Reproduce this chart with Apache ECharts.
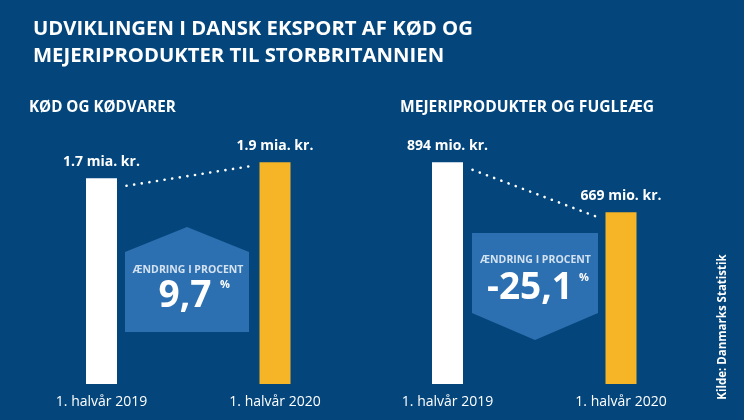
<!DOCTYPE html>
<html>
<head>
<meta charset="utf-8">
<script src="https://cdn.jsdelivr.net/npm/echarts@6/dist/echarts.min.js"></script>
<style>
html,body{margin:0;padding:0;background:#04467B;}
#c{width:744px;height:420px;}
</style>
</head>
<body>
<div id="c"></div>
<script>
// ---- data ----
var categories = ['1. halvår 2019', '1. halvår 2020'];
var meatValues = [1.7, 1.9];          // mia. kr.
var dairyValues = [894, 669];         // mio. kr.
var meatUnit = 'mia. kr.';
var dairyUnit = 'mio. kr.';
var meatChange = '9,7';
var dairyChange = '-25,1';
var panelTitles = ['KØD OG KØDVARER', 'MEJERIPRODUKTER OG FUGLEÆG'];
var chartTitle = 'UDVIKLINGEN I DANSK EKSPORT AF KØD OG\nMEJERIPRODUKTER TIL STORBRITANNIEN';
var changeLabel = 'ÆNDRING I PROCENT';
var sourceText = 'Kilde: Danmarks Statistik';

// ---- styles ----
var BG = '#04467B';
var GOLD = '#F6B427';
var BOX = '#2D70B1';
var FONT = '"Open Sans", "Noto Sans", sans-serif';
var barColors = ['#ffffff', GOLD];

function barData(vals) {
  return vals.map(function (v, i) {
    return { value: v, itemStyle: { color: barColors[i] } };
  });
}

var chart = echarts.init(document.getElementById('c'), null, { renderer: 'canvas' });

var axisCommon = {
  type: 'category',
  data: categories,
  axisLine: { show: false },
  axisTick: { show: false },
  axisLabel: { color: '#ffffff', fontSize: 14, fontFamily: FONT, margin: 11 }
};

var baseGraphics = [
  { type: 'text', left: 29, top: 100, style: { text: panelTitles[0], fill: '#ffffff', font: 'bold 15.2px ' + FONT } },
  { type: 'text', left: 400, top: 100, style: { text: panelTitles[1], fill: '#ffffff', font: 'bold 15.6px ' + FONT } },
  { type: 'polygon', shape: { points: [[125, 252], [187, 227], [249, 252], [249, 332], [125, 332]] }, style: { fill: BOX }, z: 5 },
  { type: 'polygon', shape: { points: [[472, 233], [598, 233], [598, 313], [535, 340], [472, 313]] }, style: { fill: BOX }, z: 5 },
  { type: 'text', x: 188, y: 270.5, z: 6, style: { text: changeLabel, fill: '#d3e2f1', font: 'bold 10.5px ' + FONT, align: 'center', verticalAlign: 'middle' } },
  { type: 'text', x: 535.5, y: 260, z: 6, style: { text: changeLabel, fill: '#d3e2f1', font: 'bold 10.5px ' + FONT, align: 'center', verticalAlign: 'middle' } },
  { type: 'text', x: 185, y: 296, z: 6, style: { text: meatChange, fill: '#ffffff', font: 'bold 37px ' + FONT, align: 'center', verticalAlign: 'middle' } },
  { type: 'text', x: 225, y: 285, z: 6, style: { text: '%', fill: '#ffffff', font: 'bold 11px ' + FONT, align: 'center', verticalAlign: 'middle' } },
  { type: 'text', x: 530, y: 288, z: 6, style: { text: dairyChange, fill: '#ffffff', font: 'bold 37px ' + FONT, align: 'center', verticalAlign: 'middle' } },
  { type: 'text', x: 584, y: 278, z: 6, style: { text: '%', fill: '#ffffff', font: 'bold 11px ' + FONT, align: 'center', verticalAlign: 'middle' } },
  { type: 'text', x: 723, y: 327, rotation: Math.PI / 2, z: 6, style: { text: sourceText, fill: '#ffffff', font: 'bold 11.5px ' + FONT, align: 'center', verticalAlign: 'middle' } }
];

var option = {
  backgroundColor: BG,
  animation: false,
  title: {
    text: chartTitle,
    left: 28,
    top: 11,
    textStyle: { color: '#ffffff', fontSize: 20.3, fontWeight: 'bold', fontFamily: FONT, lineHeight: 27 }
  },
  grid: [
    { left: 14.75, width: 347, top: 114.3, bottom: 36 },
    { left: 360.75, width: 347, top: 116.5, bottom: 36 }
  ],
  xAxis: [
    Object.assign({ gridIndex: 0 }, axisCommon),
    Object.assign({ gridIndex: 1 }, axisCommon)
  ],
  yAxis: [
    { gridIndex: 0, type: 'value', min: -0.871, max: 2.5, startValue: -0.871, show: false, splitLine: { show: false } },
    { gridIndex: 1, type: 'value', min: -103.6, max: 1100, startValue: -103.6, show: false, splitLine: { show: false } }
  ],
  series: [
    {
      type: 'bar', xAxisIndex: 0, yAxisIndex: 0, data: barData(meatValues), barWidth: 31, z: 3,
      label: {
        show: true, position: 'top', distance: 9, color: '#ffffff', fontSize: 14, fontWeight: 'bold', fontFamily: FONT,
        formatter: function (p) { return p.value.toFixed(1) + ' ' + meatUnit; }
      }
    },
    {
      type: 'bar', xAxisIndex: 1, yAxisIndex: 1, data: barData(dairyValues), barWidth: 31, z: 3,
      label: {
        show: true, position: 'top', distance: 9, color: '#ffffff', fontSize: 14, fontWeight: 'bold', fontFamily: FONT,
        formatter: function (p) { return p.value + ' ' + dairyUnit; }
      }
    }
  ],
  graphic: baseGraphics
};
chart.setOption(option);

// dotted connectors between bar tops, positioned through the chart's own scales
function connector(gridIdx, vals) {
  var p0 = chart.convertToPixel({ xAxisIndex: gridIdx, yAxisIndex: gridIdx }, [categories[0], vals[0]]);
  var p1 = chart.convertToPixel({ xAxisIndex: gridIdx, yAxisIndex: gridIdx }, [categories[1], vals[1]]);
  return {
    type: 'line', z: 2, silent: true,
    shape: { x1: p0[0] + 25, y1: p0[1] + 7.5, x2: p1[0] - 25.5, y2: p1[1] + 4 },
    style: { stroke: '#ffffff', lineWidth: 2.6, lineDash: [0.1, 7.6], lineCap: 'round' }
  };
}
chart.setOption({ graphic: baseGraphics.concat([connector(0, meatValues), connector(1, dairyValues)]) });
</script>
</body>
</html>
